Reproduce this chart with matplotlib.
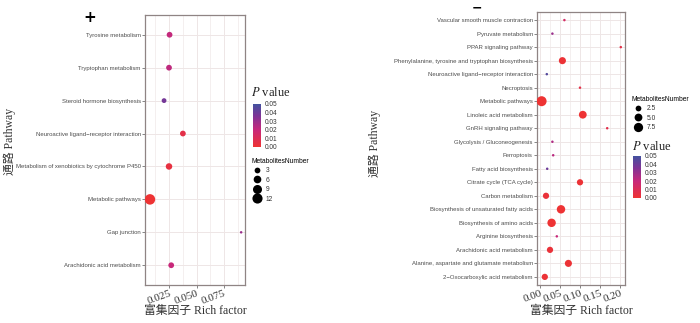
import numpy as np
import matplotlib
matplotlib.use("Agg")
import matplotlib.pyplot as plt
from matplotlib.colors import LinearSegmentedColormap, Normalize
from matplotlib.lines import Line2D
from matplotlib.ticker import MultipleLocator

plt.rcParams['mathtext.fontset'] = 'stix'

# ---------------- data ----------------
left_pathways = ["Tyrosine metabolism", "Tryptophan metabolism", "Steroid hormone biosynthesis",
                 "Neuroactive ligand\u2212receptor interaction",
                 "Metabolism of xenobiotics by cytochrome P450", "Metabolic pathways",
                 "Gap junction", "Arachidonic acid metabolism"]
left_rich = [0.0255, 0.025, 0.0205, 0.0376, 0.025, 0.0077, 0.0905, 0.027]
left_p = [0.021, 0.022, 0.038, 0.006, 0.004, 0.0002, 0.030, 0.020]
left_count = [3, 3, 2, 3, 4, 13, 1, 3]
left_size_breaks = [3, 6, 9, 12]
left_xticks = [0.025, 0.050, 0.075]

right_pathways = ["Vascular smooth muscle contraction", "Pyruvate metabolism", "PPAR signaling pathway",
                  "Phenylalanine, tyrosine and tryptophan biosynthesis",
                  "Neuroactive ligand\u2212receptor interaction", "Necroptosis", "Metabolic pathways",
                  "Linoleic acid metabolism", "GnRH signaling pathway", "Glycolysis / Gluconeogenesis",
                  "Ferroptosis", "Fatty acid biosynthesis", "Citrate cycle (TCA cycle)",
                  "Carbon metabolism", "Biosynthesis of unsaturated fatty acids",
                  "Biosynthesis of amino acids", "Arginine biosynthesis", "Arachidonic acid metabolism",
                  "Alanine, aspartate and glutamate metabolism", "2\u2212Oxocarboxylic acid metabolism"]
right_rich = [0.061, 0.031, 0.202, 0.056, 0.017, 0.100, 0.004, 0.107, 0.168, 0.031,
              0.033, 0.018, 0.100, 0.015, 0.0525, 0.029, 0.042, 0.025, 0.071, 0.012]
right_p = [0.014, 0.030, 0.006, 0.001, 0.046, 0.006, 0.0001, 0.0003, 0.007, 0.025,
           0.023, 0.040, 0.001, 0.002, 0.0002, 0.0002, 0.020, 0.002, 0.001, 0.001]
right_count = [1, 1, 1, 4, 1, 1, 9, 5, 1, 1, 1, 1, 3, 3, 6, 6, 1, 3, 4, 3]
right_size_breaks = [2.5, 5.0, 7.5]
right_xticks = [0.00, 0.05, 0.10, 0.15, 0.20]

# ---------------- style ----------------
W, H = 700, 323
fig = plt.figure(figsize=(W / 100, H / 100), dpi=100)

cmap = LinearSegmentedColormap.from_list(
    "pv", [(0, "#EE3333"), (0.4, "#C8287A"), (0.72, "#7E3396"), (1, "#43529F")])
norm = Normalize(0, 0.05)

SERIF = ["Liberation Serif", "Noto Sans CJK SC"]
SANS = "Liberation Sans"
GRID = "#EEE6E6"
BORDER = "#8F8484"
TXT = "#4D4D4D"


def diam(v, vmin, vmax, dmin, dmax):
    v = np.asarray(v, dtype=float)
    return dmin + (dmax - dmin) * np.sqrt(np.clip((v - vmin) / (vmax - vmin), 0, 1))


def panel(rect, cats, rich, pvals, counts, xlim, xticks, xminor, dmin, dmax, fmt):
    ax = fig.add_axes([rect[0] / W, 1 - rect[3] / H, (rect[2] - rect[0]) / W, (rect[3] - rect[1]) / H])
    n = len(cats)
    ypos = np.arange(n)[::-1]
    vmin, vmax = min(counts), max(counts)
    d = diam(counts, vmin, vmax, dmin, dmax)
    ax.set_axisbelow(True)
    ax.scatter(rich, ypos, s=(d * 0.72) ** 2, c=pvals, cmap=cmap, norm=norm, linewidths=0, zorder=3)
    ax.set_xlim(*xlim)
    ax.set_ylim(-0.6, n - 1 + 0.6)
    ax.set_yticks(ypos)
    ax.set_yticklabels(cats, fontsize=4.3, family=SANS, color=TXT)
    ax.set_xticks(xticks)
    ax.set_xticklabels([fmt.format(t) for t in xticks], rotation=20, ha="right", va="top",
                       rotation_mode="anchor", fontsize=8, family="Liberation Serif", color="#333333")
    ax.xaxis.set_minor_locator(MultipleLocator(xminor))
    ax.grid(True, which="major", color=GRID, lw=0.7)
    ax.grid(True, which="minor", axis="x", color=GRID, lw=0.45)
    ax.tick_params(axis="both", which="major", length=2, width=0.5, color="#555555", pad=1)
    ax.tick_params(axis="x", which="minor", length=0)
    for sp in ax.spines.values():
        sp.set_color(BORDER)
        sp.set_linewidth(0.9)
    ax.set_xlabel("富集因子 Rich factor", family=SERIF, fontsize=8.5, color="#333333")
    ax.set_ylabel("通路 Pathway", family=SERIF, fontsize=8.5, color="#333333")
    return ax, vmin, vmax


ax1, lmin, lmax = panel((145, 15, 245, 285), left_pathways, left_rich, left_p, left_count,
                       (0.0032, 0.094), left_xticks, 0.0125, 2.5, 10.5, "{:.3f}")
ax1.xaxis.set_label_coords(0.5, (285 - 305) / 270)
ax1.yaxis.set_label_coords((16 - 145) / 100, 0.53)

ax2, rmin, rmax = panel((537, 12, 625, 285), right_pathways, right_rich, right_p, right_count,
                       (-0.0075, 0.2125), right_xticks, 0.025, 2.5, 10.0, "{:.2f}")
ax2.xaxis.set_label_coords(0.5, (285 - 305) / 273)
ax2.yaxis.set_label_coords((381 - 537) / 88, 0.52)


def colorbar(x0, y0, x1, y1, title_xy):
    cax = fig.add_axes([x0 / W, 1 - y1 / H, (x1 - x0) / W, (y1 - y0) / H])
    sm = plt.cm.ScalarMappable(norm=norm, cmap=cmap)
    cb = fig.colorbar(sm, cax=cax, ticks=[0, 0.01, 0.02, 0.03, 0.04, 0.05])
    cb.outline.set_visible(False)
    cb.ax.set_yticklabels(["0.00", "0.01", "0.02", "0.03", "0.04", "0.05"], fontsize=4.7,
                          family=SANS, color="#333333")
    cb.ax.tick_params(length=1.5, width=0.4, color="white", pad=1)
    fig.text(title_xy[0] / W, 1 - title_xy[1] / H, r"$P$ value", family="Liberation Serif",
             fontsize=9, va="center", ha="left", color="#222222")


def size_legend(breaks, vmin, vmax, dmin, dmax, xy):
    handles = [Line2D([], [], ls="", marker="o", color="black", markeredgewidth=0,
                      markersize=float(diam(b, vmin, vmax, dmin, dmax)) * 0.72) for b in breaks]
    labels = [str(b) if isinstance(b, int) else "{:.1f}".format(b) for b in breaks]
    leg = fig.legend(handles, labels, title="MetabolitesNumber", loc="upper left",
                     bbox_to_anchor=(xy[0] / W, 1 - xy[1] / H), frameon=False, fontsize=4.8,
                     title_fontsize=4.8, labelspacing=0.3, handletextpad=0.5,
                     handlelength=1.7, handleheight=1.1, borderpad=0, borderaxespad=0,
                     alignment="left")
    leg.get_title().set_family(SANS)
    for t in leg.get_texts():
        t.set_family(SANS)
        t.set_color("#333333")


colorbar(253, 104, 261, 147, (251, 93))
size_legend(left_size_breaks, lmin, lmax, 2.5, 10.5, (251, 158))

size_legend(right_size_breaks, rmin, rmax, 2.5, 10.0, (632, 96))
colorbar(633, 156, 641, 198, (632, 146))

fig.text(90 / W, 1 - 17 / H, "+", fontsize=11, fontweight="bold", ha="center", va="center")
fig.text(477 / W, 1 - 1 / H, "\u2212", fontsize=9, fontweight="bold", ha="center", va="top")

fig.savefig("out.png", dpi=100)
